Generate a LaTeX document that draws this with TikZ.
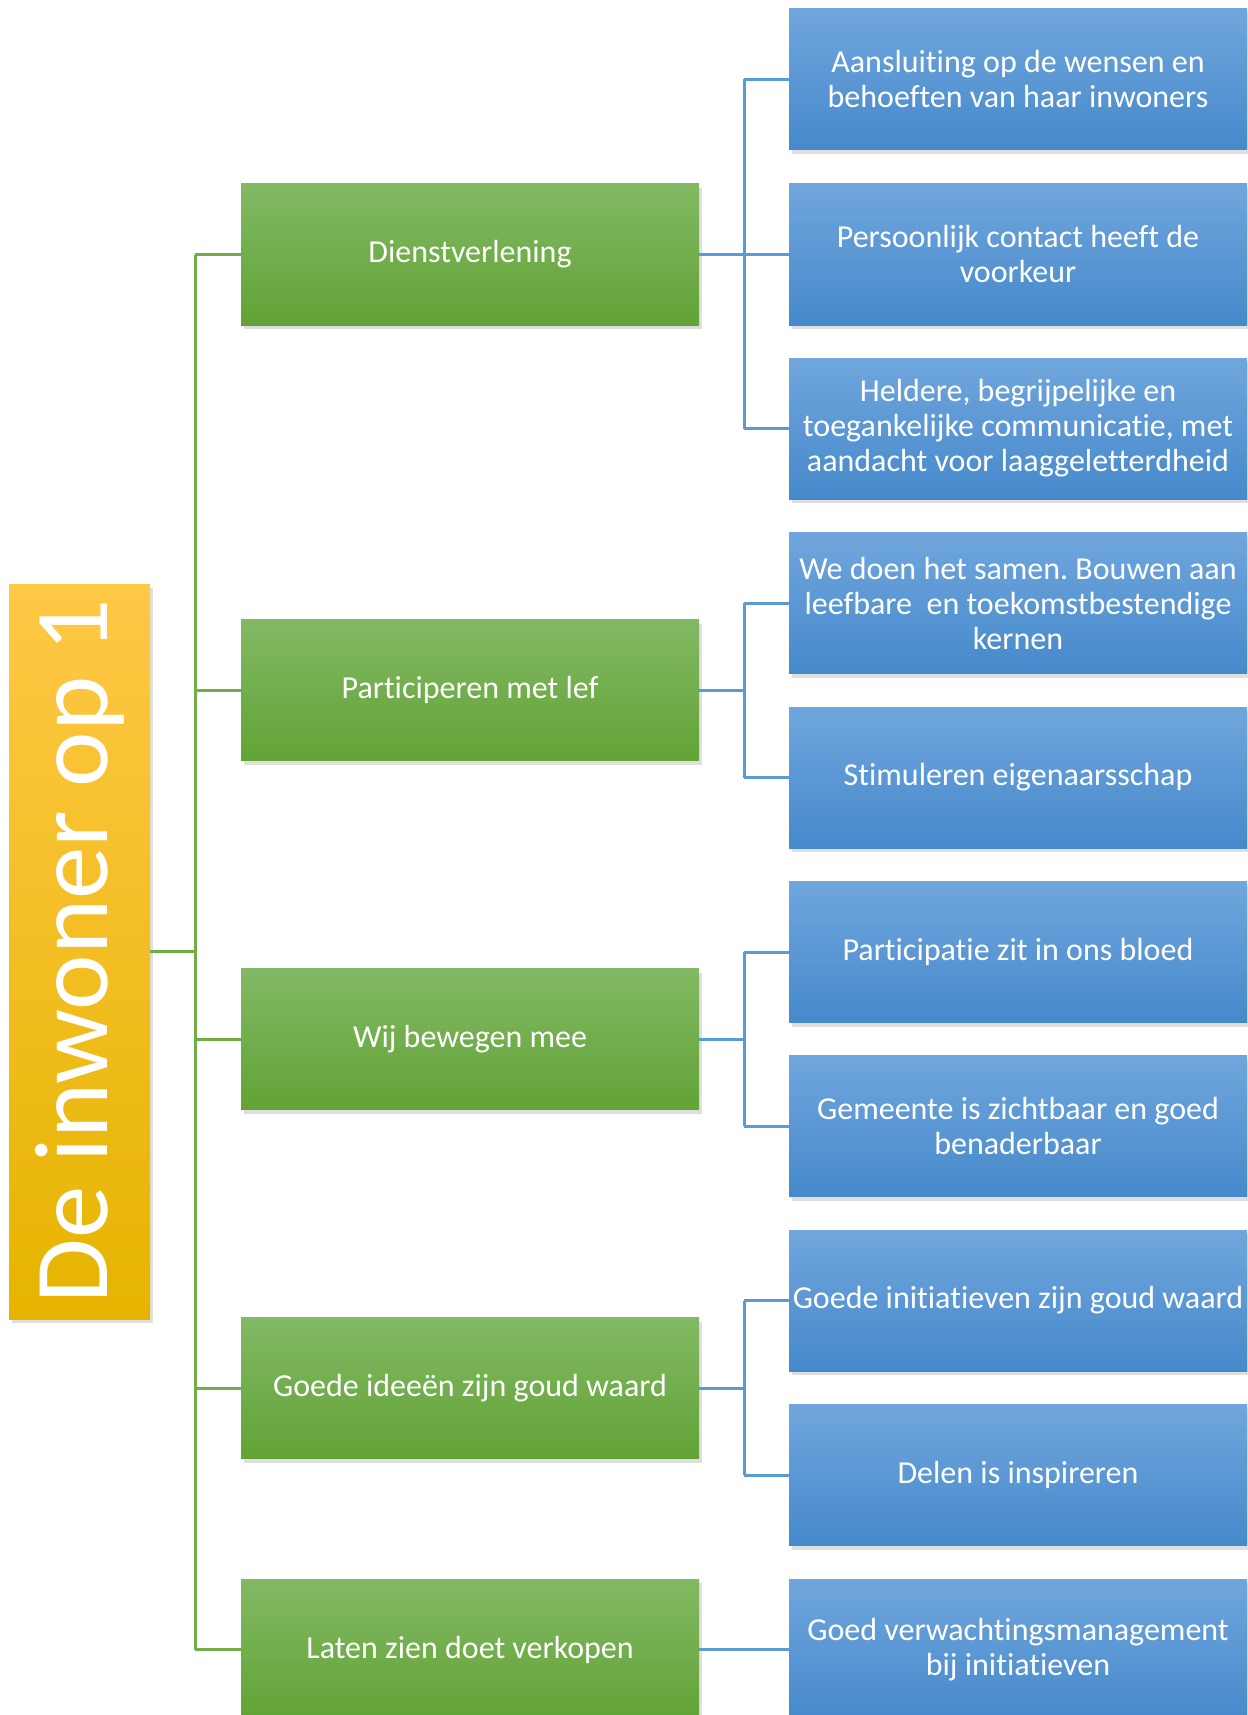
\documentclass[tikz,border=0pt]{standalone}
\usepackage{fontspec}
\setmainfont{Carlito}[Ligatures=NoCommon]
\definecolor{rootgold}{HTML}{FFC000}
\definecolor{roottop}{HTML}{FFC846}
\definecolor{rootbottom}{HTML}{E6B400}
\definecolor{themetop}{HTML}{82B964}
\definecolor{themebottom}{HTML}{62A336}
\definecolor{goaltop}{HTML}{70A6DD}
\definecolor{goalbottom}{HTML}{4689CB}
\definecolor{greenline}{HTML}{70AD47}
\definecolor{blueline}{HTML}{5B9BD5}
\usepackage{tikz}
\usetikzlibrary{shadows, positioning}

\begin{document}
\frenchspacing
\begin{tikzpicture}[x=1pt, y=-1pt, font=\fontsize{32}{35}\selectfont,
    rootbox/.style={rectangle, minimum width=141, minimum height=735, inner sep=0pt,
        top color=roottop, middle color=rootgold, bottom color=rootbottom, text=white,
        font=\fontsize{105}{110}\selectfont,
        drop shadow={shadow xshift=3pt, shadow yshift=-4pt, opacity=0.25}},
    theme/.style={rectangle, minimum width=458, minimum height=141, inner sep=0pt,
        top color=themetop, bottom color=themebottom, text=white, align=center,
        drop shadow={shadow xshift=3pt, shadow yshift=-4pt, opacity=0.25}},
    goal/.style={rectangle, minimum width=458, minimum height=141, inner sep=0pt,
        top color=goaltop, bottom color=goalbottom, text=white, align=center,
        drop shadow={shadow xshift=3pt, shadow yshift=-4pt, opacity=0.25}},
    gline/.style={draw=greenline, line width=3pt},
    bline/.style={draw=blueline, line width=3pt}]
        \useasboundingbox (0,0) rectangle (1247,1715);

        % root
        \node[rootbox] (root) at (79.5,951.5) {\rotatebox{90}{De inwoner op 1}};

        % themes
        \node[theme] (dienst) at (470,254.5) {Dienstverlening};
        \node[theme] (partic) at (470,690) {Participeren met lef};
        \node[theme] (wij) at (470,1039) {Wij bewegen mee};
        \node[theme] (ideeen) at (470,1388) {Goede ideeën zijn goud waard};
        \node[theme] (laten) at (470,1649.5) {Laten zien doet verkopen};

        % goals
        \node[goal] (d1) at (1018,79.5) {Aansluiting op de wensen en\\behoeften van haar inwoners};
        \node[goal] (d2) at (1018,254.5) {Persoonlijk contact heeft de\\voorkeur};
        \node[goal] (d3) at (1018,428.5) {Heldere, begrijpelijke en\\toegankelijke communicatie, met\\aandacht voor laaggeletterdheid};
        \node[goal] (d4) at (1018,603) {We doen het samen. Bouwen aan\\leefbare\ \ en toekomstbestendige\\kernen};
        \node[goal] (d5) at (1018,777.5) {Stimuleren eigenaarsschap};
        \node[goal] (d6) at (1018,952) {Participatie zit in ons bloed};
        \node[goal] (d7) at (1018,1126) {Gemeente is zichtbaar en goed\\benaderbaar};
        \node[goal] (d8) at (1018,1300.5) {Goede initiatieven zijn goud waard};
        \node[goal] (d9) at (1018,1475) {Delen is inspireren};
        \node[goal] (d10) at (1018,1649.5) {Goed verwachtingsmanagement\\bij initiatieven};

        % tree lines
        \coordinate (trunk) at (195,0);
        \coordinate (bus) at (744,0);
        \draw[gline] (root.east) -- (trunk |- root.east);
        \draw[gline] (trunk |- dienst.west) -- (trunk |- laten.west);
        \foreach \t in {dienst, partic, wij, ideeen, laten}
            \draw[gline] (trunk |- \t.west) -- (\t.west);

        \draw[bline] (dienst.east) -- (d2.west);
        \draw[bline] (bus |- d1.west) -- (bus |- d3.west);
        \draw[bline] (partic.east) -- (bus |- partic.east);
        \draw[bline] (bus |- d4.west) -- (bus |- d5.west);
        \draw[bline] (wij.east) -- (bus |- wij.east);
        \draw[bline] (bus |- d6.west) -- (bus |- d7.west);
        \draw[bline] (ideeen.east) -- (bus |- ideeen.east);
        \draw[bline] (bus |- d8.west) -- (bus |- d9.west);
        \draw[bline] (laten.east) -- (d10.west);
        \foreach \g in {d1, d3, d4, d5, d6, d7, d8, d9}
            \draw[bline] (bus |- \g.west) -- (\g.west);
    \end{tikzpicture}
\end{document}
